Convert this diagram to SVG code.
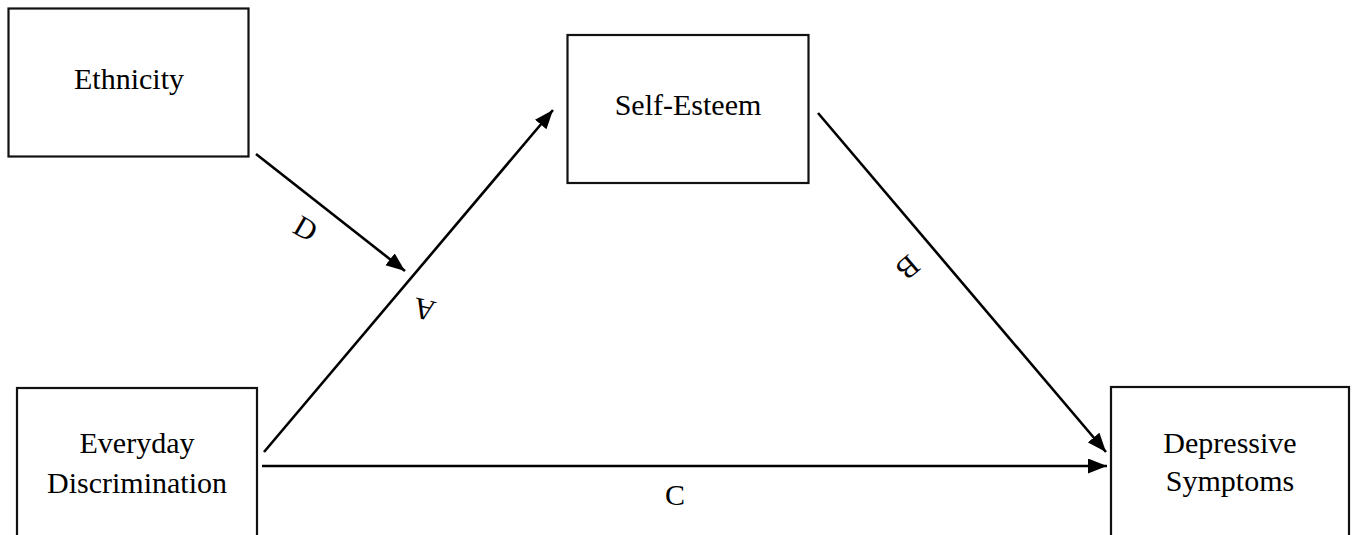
<svg xmlns="http://www.w3.org/2000/svg" width="1357" height="535" viewBox="0 0 1357 535">
  <style>
    .box { fill: #ffffff; stroke: #111111; stroke-width: 2.2; }
    .lbl { font-family: "Liberation Serif", "Times New Roman", serif; font-size: 30px; fill: #000000; text-anchor: middle; }
    .edge { stroke: #000000; stroke-width: 2.6; fill: none; marker-end: url(#arrow); }
  </style>
  <defs>
    <marker id="arrow" markerUnits="userSpaceOnUse" markerWidth="20" markerHeight="16" refX="19" refY="7.5" orient="auto">
      <path d="M0,0 L19,7.5 L0,15 z" fill="#000000"/>
    </marker>
  </defs>
  <rect width="1357" height="535" fill="#ffffff"/>

  <g id="node-ethnicity">
    <rect class="box" x="8.5" y="8.5" width="240" height="148"/>
    <text class="lbl" x="129" y="89">Ethnicity</text>
  </g>
  <g id="node-self-esteem">
    <rect class="box" x="567.5" y="35" width="241" height="148"/>
    <text class="lbl" x="688" y="115">Self-Esteem</text>
  </g>
  <g id="node-everyday-discrimination">
    <rect class="box" x="17" y="388" width="240" height="160"/>
    <text class="lbl" x="137" y="453">Everyday</text>
    <text class="lbl" x="137" y="493">Discrimination</text>
  </g>
  <g id="node-depressive-symptoms">
    <rect class="box" x="1111" y="387" width="238" height="160"/>
    <text class="lbl" x="1230" y="453">Depressive</text>
    <text class="lbl" x="1230" y="491">Symptoms</text>
  </g>

  <g id="connectors">
    <line class="edge" x1="256" y1="154" x2="405" y2="271"/>
    <line class="edge" x1="264" y1="452" x2="553" y2="110"/>
    <line class="edge" x1="818" y1="113" x2="1106" y2="452"/>
    <line class="edge" x1="262" y1="466" x2="1107" y2="466"/>
    <text class="lbl" transform="translate(306,228) rotate(30)" dominant-baseline="central">D</text>
    <text class="lbl" transform="translate(424,310) rotate(193)" dominant-baseline="central">A</text>
    <text class="lbl" transform="translate(908,268) rotate(139)" dominant-baseline="central">B</text>
    <text class="lbl" x="675" y="505">C</text>
  </g>
</svg>
